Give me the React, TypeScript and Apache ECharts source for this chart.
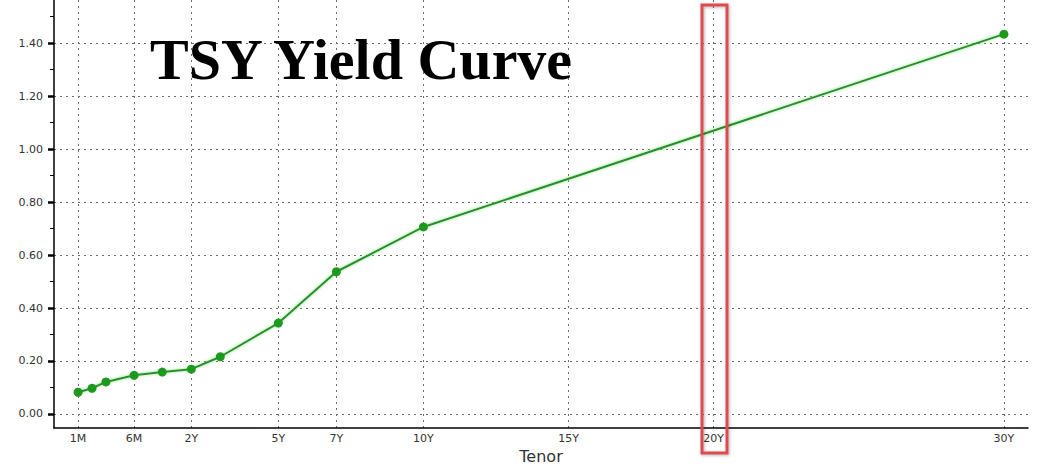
import React, { useEffect, useRef } from "react";
import * as echarts from "echarts";

// Curve points: tenor, position on the tenor axis, yield (%)
const tenors = ["1M", "2M", "3M", "6M", "1Y", "2Y", "3Y", "5Y", "7Y", "10Y", "30Y"];
const tenorPos = [-1.9, -1.42, -0.94, 0.03, 1.0, 2, 3, 5, 7, 10, 30];
const yields = [0.082, 0.097, 0.121, 0.146, 0.158, 0.169, 0.216, 0.343, 0.537, 0.706, 1.434];

// X axis ticks
const xTickLabels = ["1M", "6M", "2Y", "5Y", "7Y", "10Y", "15Y", "20Y", "30Y"];
const xTickPos = [-1.9, 0.03, 2, 5, 7, 10, 15, 20, 30];

// Y axis ticks
const yTicks = [0, 0.2, 0.4, 0.6, 0.8, 1.0, 1.2, 1.4];
const yMinorTicks = [0.1, 0.3, 0.5, 0.7, 0.9, 1.1, 1.3, 1.5];

const titleText = "TSY Yield Curve";
const xAxisName = "Tenor";

export default function App() {
  const ref = useRef<HTMLDivElement>(null);

  useEffect(() => {
    if (!ref.current) return;
    const chart = echarts.init(ref.current, null, { renderer: "svg" });
    const labelFont = '"DejaVu Sans", Tahoma, sans-serif';
    const gridLine = { show: true, lineStyle: { color: "#6a6a6a", type: [2, 4] as any, width: 1 } };

    chart.setOption({
      animation: false,
      backgroundColor: "#ffffff",
      grid: { left: 54, right: 10, top: 0, bottom: 37, containLabel: false, outerBoundsMode: "none" },
      xAxis: {
        type: "value",
        min: -2.73,
        max: 30.83,
        name: xAxisName,
        nameLocation: "middle",
        nameGap: 20,
        nameTextStyle: { fontFamily: labelFont, fontSize: 16, color: "#333" },
        axisLine: { show: true, onZero: false, lineStyle: { color: "#000", width: 1.5 } },
        axisTick: { show: false, customValues: xTickPos },
        axisLabel: {
          customValues: xTickPos,
          margin: 5,
          fontFamily: labelFont,
          fontSize: 11,
          color: "#333",
          formatter: (v: number) => {
            let best = 0;
            for (let i = 1; i < xTickPos.length; i++) {
              if (Math.abs(xTickPos[i] - v) < Math.abs(xTickPos[best] - v)) best = i;
            }
            return xTickLabels[best];
          },
        },
        splitLine: gridLine,
      },
      yAxis: [
        {
          type: "value",
          min: -0.053,
          max: 1.563,
          axisLine: { show: true, onZero: false, lineStyle: { color: "#000", width: 1.5 } },
          axisTick: { show: true, customValues: yTicks, length: 6, lineStyle: { color: "#000", width: 2.5 } },
          axisLabel: {
            customValues: yTicks,
            margin: 11,
            fontFamily: labelFont,
            fontSize: 11,
            color: "#333",
            formatter: (v: number) => v.toFixed(2),
          },
          splitLine: gridLine,
        },
        {
          type: "value",
          position: "left",
          offset: 0,
          min: -0.053,
          max: 1.563,
          axisLine: { show: false, onZero: false },
          axisTick: { show: true, customValues: yMinorTicks, length: 4, lineStyle: { color: "#000", width: 1 } },
          axisLabel: { show: false },
          splitLine: { show: false },
        },
      ],
      graphic: [
        {
          type: "text",
          x: 150,
          y: 59,
          z: 10,
          style: {
            text: titleText,
            fontFamily: '"Liberation Serif", "Times New Roman", serif',
            fontWeight: "bold",
            fontSize: 58,
            fill: "#000",
            verticalAlign: "middle",
          },
        },
        {
          type: "rect",
          z: 20,
          shape: { x: 702, y: 5, width: 25, height: 448 },
          style: {
            fill: "none",
            stroke: "#dc4b4f",
            lineWidth: 3,
            shadowBlur: 3,
            shadowColor: "rgba(0,0,0,0.3)",
            shadowOffsetX: 1,
            shadowOffsetY: 1,
          },
        },
      ],
      series: [
        {
          type: "line",
          name: "Yield",
          yAxisIndex: 0,
          data: tenorPos.map((p, i) => ({ name: tenors[i], value: [p, yields[i]] })),
          symbol: "circle",
          symbolSize: 9,
          itemStyle: { color: "#1d9a1d" },
          lineStyle: { color: "#2f8a2f", width: 2, shadowBlur: 3, shadowColor: "#7cf07c" },
          z: 5,
        },
      ],
    });

    return () => chart.dispose();
  }, []);

  return (
    <div
      ref={ref}
      style={{ position: "fixed", left: 0, top: 0, width: 1038, height: 465, background: "#fff" }}
    />
  );
}
